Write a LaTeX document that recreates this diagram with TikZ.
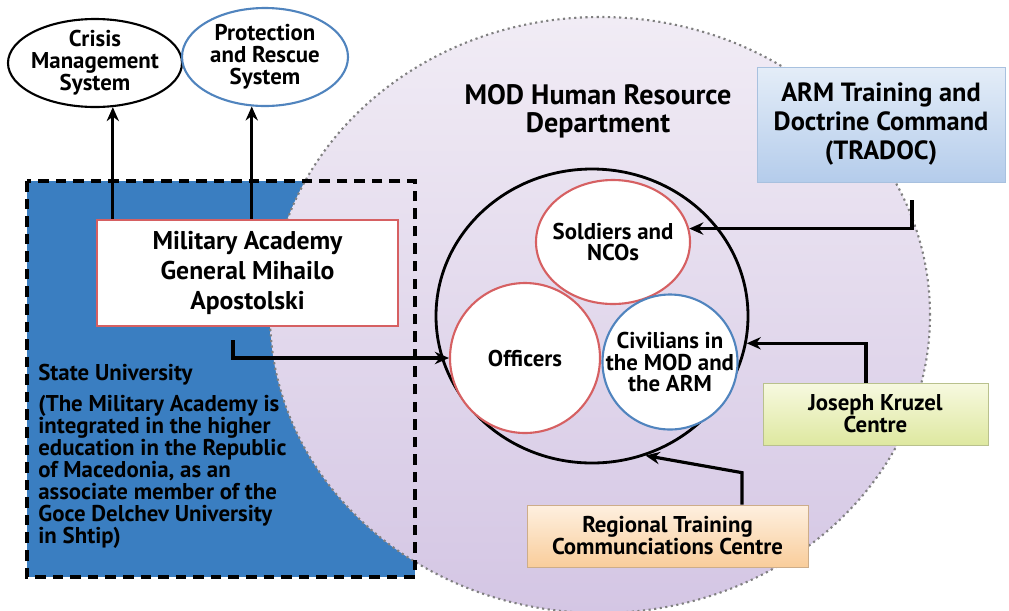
\documentclass[tikz,border=0pt]{standalone}
\usepackage{fontspec}
\setmainfont{PT Sans}
\usepackage{tikz}
\usetikzlibrary{arrows,arrows.meta,shapes,positioning}
\usetikzlibrary{calc}
\definecolor{univblue}{RGB}{58,126,193}
\definecolor{hrtop}{RGB}{241,236,245}
\definecolor{hrbot}{RGB}{212,198,228}
\definecolor{redline}{RGB}{214,96,98}
\definecolor{blueline}{RGB}{80,132,190}
\definecolor{tradoctop}{RGB}{228,237,248}
\definecolor{tradocbot}{RGB}{180,204,235}
\definecolor{kruzeltop}{RGB}{247,249,224}
\definecolor{kruzelbot}{RGB}{222,232,160}
\definecolor{regiontop}{RGB}{254,240,224}
\definecolor{regionbot}{RGB}{249,205,155}
\tikzstyle{arrow}   = [line width=1.8pt,-{Stealth[length=8pt,width=7pt]}]
\tikzstyle{txt}     = [font=\bfseries\fontsize{13}{12.5}\selectfont, align=center]
\tikzstyle{bigtxt}  = [font=\bfseries\fontsize{15}{16.5}\selectfont, align=center]
\tikzstyle{unit}    = [ellipse, fill=white, line width=1.2pt, inner sep=0pt]

\begin{document}
\begin{tikzpicture}
        \useasboundingbox (0,0) rectangle (20.18,-12.2);
        \fill[univblue] (0.54,-3.62) rectangle (8.3,-11.54);
        \node[ellipse, minimum width=13.2cm, minimum height=11.92cm, top color=hrtop, bottom color=hrbot, draw=gray, dotted, line width=1.2pt] (hrd) at (12,-6.3) {};
        \draw[line width=2pt, dash pattern=on 6pt off 4pt] (0.54,-3.62) rectangle (8.3,-11.54);
        \node[font=\bfseries\fontsize{16}{16}\selectfont, align=center] (hrdtitle) at (11.96,-2.22) {MOD Human Resource\\Department};

        \node[unit, draw=black, minimum width=3.48cm, minimum height=1.76cm, label={[txt]center:Crisis\\Management\\System}] (crisis) at (1.9,-1.26) {};
        \node[unit, draw=blueline, minimum width=3.32cm, minimum height=1.96cm, label={[txt]center:Protection\\and Rescue\\System}] (rescue) at (5.3,-1.14) {};

        \node[draw=redline, fill=white, line width=1.2pt, minimum width=6.02cm, minimum height=2.12cm, bigtxt, font=\bfseries\fontsize{14.6}{17}\selectfont] (academy) at (4.95,-5.46) {Military Academy\\General Mihailo\\Apostolski};
        \node[txt, align=left, anchor=north west, inner sep=0pt] (univ) at (0.76,-7.28) {State University\\[5pt](The Military Academy is\\integrated in the higher\\education in the Republic\\of Macedonia, as an\\associate member of the\\Goce Delchev University\\in Shtip)};

        \node[ellipse, draw, line width=1.6pt, minimum width=6.24cm, minimum height=5.88cm] (hr) at (11.84,-6.32) {};
        \node[unit, draw=redline, minimum width=3.08cm, minimum height=2.48cm, label={[txt]center:Soldiers and\\NCOs}] (soldiers) at (12.26,-4.84) {};
        \node[unit, draw=redline, minimum width=3cm, minimum height=3cm, label={[txt]center:Officers}] (officers) at (10.5,-7.16) {};
        \node[unit, draw=blueline, minimum width=2.7cm, minimum height=2.7cm, label={[txt]center:Civilians in\\the MOD and\\the ARM}] (civilians) at (13.4,-7.24) {};

        \node[bigtxt, draw=blueline!50, top color=tradoctop, bottom color=tradocbot, minimum width=4.96cm, minimum height=2.3cm] (tradoc) at (17.62,-2.49) {ARM Training and\\Doctrine Command\\(TRADOC)};
        \node[txt, draw=kruzelbot!80!black!90, top color=kruzeltop, bottom color=kruzelbot, minimum width=4.5cm, minimum height=1.24cm] (kruzel) at (17.51,-8.28) {Joseph Kruzel\\Centre};
        \node[txt, draw=regionbot!80!black!90, top color=regiontop, bottom color=regionbot, minimum width=5.62cm, minimum height=1.24cm] (regional) at (13.35,-10.72) {Regional Training\\Communciations Centre};

        \coordinate (acadout) at (4.66,-6.8);
        \coordinate (tradocout) at (18.24,-4.0);
        \draw[arrow] (academy.north -| crisis.-68) -- (crisis.-68);
        \draw[arrow] (academy.north -| rescue.-105) -- (rescue.-105);
        \draw[arrow] (acadout) |- (officers.west);
        \draw[arrow] (tradocout) |- (soldiers.10);
        \draw[arrow] ([xshift=-0.19cm]kruzel.north) |- (hr.-10);
        \draw[arrow] ([xshift=1.49cm]regional.north) -- ++(0,0.64) -- (hr.-69);
    \end{tikzpicture}
\end{document}
